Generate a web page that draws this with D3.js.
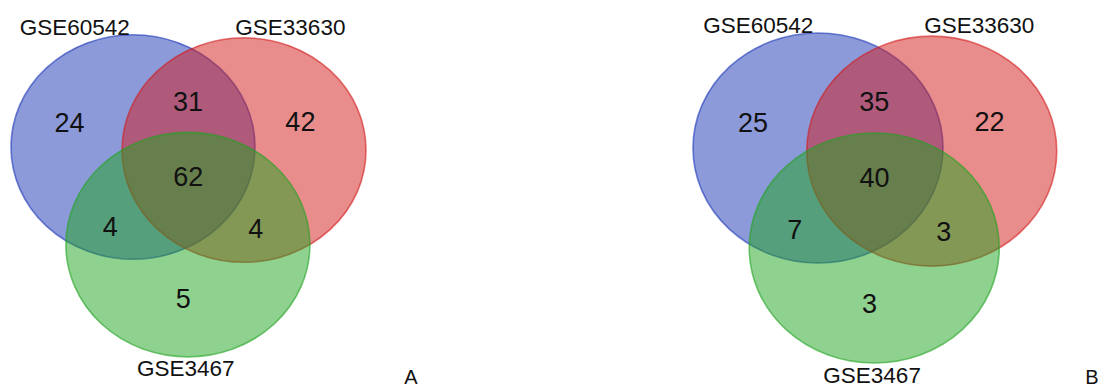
<!DOCTYPE html>
<html>
<head>
<meta charset="utf-8">
<script src="https://cdn.jsdelivr.net/npm/d3@7"></script>
<style>
  html, body { margin: 0; padding: 0; background: #fff; }
  svg { display: block; }
  text { font-family: "Liberation Sans", Arial, sans-serif; fill: #111; }
</style>
</head>
<body>
<svg id="chart" width="1100" height="390"></svg>
<script>
// ---- data ----
const setNames = ["GSE60542", "GSE33630", "GSE3467"];
const setColors = ["#1a35b5", "#d21a1a", "#20a420"];
// regions: only60542, only33630, only3467, 60542&33630, all three, 60542&3467, 33630&3467
const regionKeys = ["a", "b", "c", "ab", "abc", "ac", "bc"];
const countsA = [24, 42, 5, 31, 62, 4, 4];
const countsB = [25, 22, 3, 35, 40, 7, 3];
const panelLetters = ["A", "B"];

// ---- layout (unit coordinates, 1 = ellipse x-radius) ----
const ellipseCenters = [[0, 0], [0.91, 0.025], [0.45, 0.8]];
const ellipseRy = 0.92;
const regionPos = {
  a: [-0.52, -0.20], b: [1.372, -0.207], c: [0.413, 1.246],
  ab: [0.451, -0.37], abc: [0.453, 0.243], ac: [-0.186, 0.655], bc: [1.007, 0.67]
};
const setLabelPos = [[-0.478, -0.92], [1.29, -0.92], [0.433, 1.878]];

const panels = [
  { ox: 133, oy: 147, s: 122, letterX: 411, counts: countsA, letter: panelLetters[0] },
  { ox: 818, oy: 148, s: 125, letterX: 1092, counts: countsB, letter: panelLetters[1] }
];

const svg = d3.select("#chart");

panels.forEach(p => {
  const x = d3.scaleLinear().domain([0, 1]).range([p.ox, p.ox + p.s]);
  const y = d3.scaleLinear().domain([0, 1]).range([p.oy, p.oy + p.s]);
  const r = d3.scaleLinear().domain([0, 1]).range([0, p.s]);
  const g = svg.append("g");

  g.selectAll("ellipse")
    .data(setNames.map((n, i) => ({ name: n, c: ellipseCenters[i], color: setColors[i] })))
    .join("ellipse")
    .attr("cx", d => x(d.c[0]))
    .attr("cy", d => y(d.c[1]))
    .attr("rx", r(1))
    .attr("ry", r(ellipseRy))
    .attr("fill", d => d.color)
    .attr("fill-opacity", 0.5)
    .attr("stroke", d => d.color)
    .attr("stroke-opacity", 0.6)
    .attr("stroke-width", 1.6);

  g.selectAll("text.count")
    .data(regionKeys.map((k, i) => ({ k, v: p.counts[i] })))
    .join("text")
    .attr("class", "count")
    .attr("x", d => x(regionPos[d.k][0]))
    .attr("y", d => y(regionPos[d.k][1]))
    .attr("text-anchor", "middle")
    .attr("dominant-baseline", "central")
    .style("font-size", "27px")
    .text(d => d.v);

  g.selectAll("text.setlabel")
    .data(setNames.map((n, i) => ({ n, pos: setLabelPos[i] })))
    .join("text")
    .attr("class", "setlabel")
    .attr("x", d => x(d.pos[0]))
    .attr("y", d => y(d.pos[1]))
    .attr("text-anchor", "middle")
    .style("font-size", "22.5px")
    .text(d => d.n);

  g.append("text")
    .attr("x", p.letterX)
    .attr("y", 384)
    .attr("text-anchor", "middle")
    .style("font-size", "20px")
    .text(p.letter);
});
</script>
</body>
</html>
